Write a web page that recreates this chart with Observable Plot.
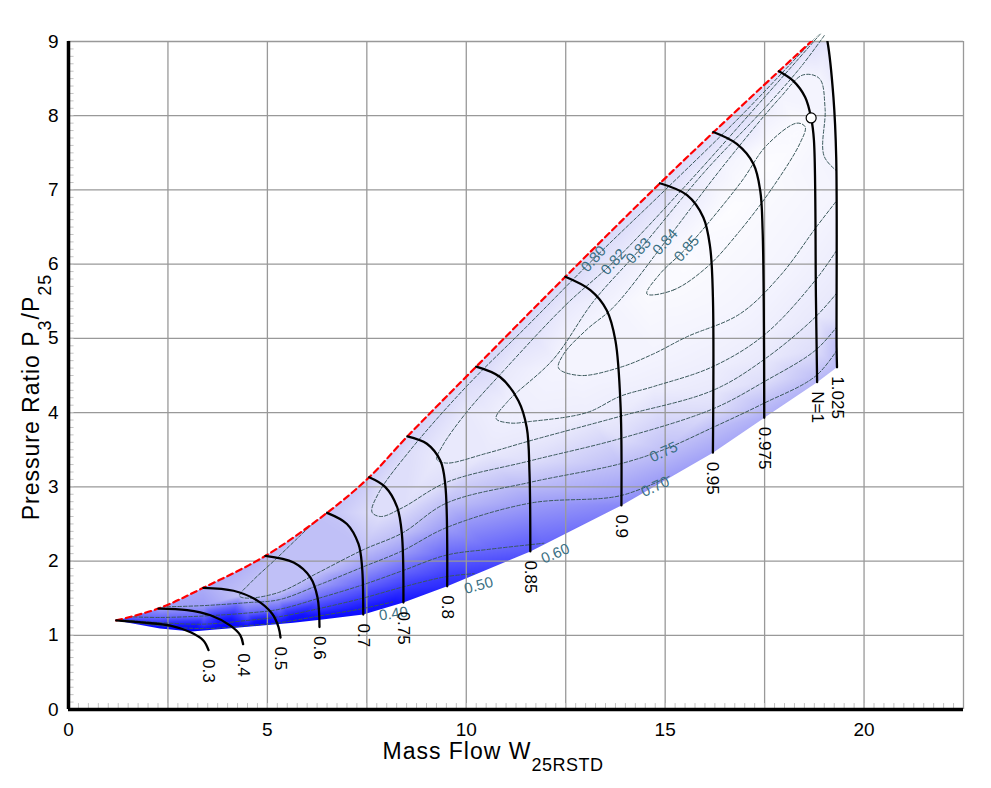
<!DOCTYPE html>
<html><head><meta charset="utf-8">
<script src="https://cdn.jsdelivr.net/npm/d3@7"></script>
<script src="https://cdn.jsdelivr.net/npm/@observablehq/plot@0.6"></script>
<style>body{margin:0;background:#fff;font-family:"Liberation Sans",Arial,sans-serif}</style>
</head><body><div id="chart"></div>
<script>
// ---- axes / ticks ----
const xTicks = [0, 5, 10, 15, 20];
const yTicks = [0, 1, 2, 3, 4, 5, 6, 7, 8, 9];
const xGrid = [0, 2.5, 5, 7.5, 10, 12.5, 15, 17.5, 20, 22.5];
const minorX = d3.range(0, 22.5, 0.25);
const minorY = d3.range(0, 9, 0.1);

// ---- surge line ----
const surgeLine = [[1.2,1.2],[2.26,1.36],[3.39,1.64],[4.95,2.07],[6.5,2.65],[7.56,3.13],[8.52,3.68],[10.25,4.62],[12.49,5.83],[14.87,7.09],[16.2,7.77],[17.86,8.6],[18.67,9.0],[19.0,9.17]];
const surgeEff = [0.45,0.70,0.72,0.735,0.755,0.77,0.78,0.785,0.79,0.795,0.795,0.795,0.8,0.8];

// ---- lower (choke) edge of the map ----
const chokeEdge = [[1.2,1.2],[2.3,1.09],[3.1,1.05],[4.0,1.09],[4.8,1.13],[5.65,1.17],[6.33,1.21],[7.41,1.28],[8.42,1.44],[9.52,1.66],[11.61,2.13],[13.9,2.75],[16.2,3.46],[17.49,3.93],[18.82,4.41],[19.32,4.61]];
const chokeEff = [0.45,0.3,0.25,0.25,0.27,0.3,0.33,0.36,0.4,0.46,0.57,0.66,0.71,0.725,0.735,0.74];

// ---- speed lines ----
const speedNames = ["0.3","0.4","0.5","0.6","0.7","0.75","0.8","0.85","0.9","0.95","0.975","N=1","1.025"];
const speed030 = [[1.2,1.2],[1.9,1.17],[2.56,1.13],[3.07,1.04],[3.39,0.93],[3.52,0.8]];
const speed040 = [[2.26,1.36],[2.98,1.34],[3.57,1.27],[4.07,1.13],[4.32,1.0],[4.39,0.88]];
const speed050 = [[3.39,1.64],[4.15,1.6],[4.74,1.47],[5.12,1.29],[5.28,1.11],[5.33,0.97]];
const speed060 = [[4.95,2.07],[5.66,1.98],[6.08,1.78],[6.26,1.51],[6.31,1.11]];
const speed070 = [[6.5,2.65],[7.0,2.5],[7.29,2.23],[7.38,1.92],[7.41,1.28]];
const speed075 = [[7.56,3.13],[7.96,3.0],[8.26,2.73],[8.38,2.37],[8.42,1.44]];
const speed080 = [[8.52,3.68],[9.01,3.58],[9.35,3.35],[9.47,3.04],[9.52,1.66]];
const speed085 = [[10.25,4.62],[10.85,4.48],[11.31,4.16],[11.52,3.8],[11.59,3.18],[11.61,2.13]];
const speed090 = [[12.49,5.83],[13.12,5.65],[13.53,5.38],[13.75,4.97],[13.88,4.07],[13.9,2.75]];
const speed095 = [[14.87,7.09],[15.55,6.93],[15.96,6.63],[16.13,6.23],[16.2,5.56],[16.2,3.46]];
const speed0975 = [[16.21,7.78],[16.8,7.62],[17.22,7.35],[17.39,6.99],[17.45,6.45],[17.49,3.93]];
const speed100 = [[17.86,8.6],[18.22,8.47],[18.52,8.25],[18.67,7.97],[18.74,7.67],[18.79,5.56],[18.82,4.41]];
const speed1025 = [[19.0,9.17],[19.08,9.0],[19.23,8.25],[19.3,7.44],[19.31,4.88],[19.32,4.61]];
const speedCurves = [speed030,speed040,speed050,speed060,speed070,speed075,speed080,speed085,speed090,speed095,speed0975,speed100,speed1025];
const rightEff = [0.8,0.81,0.835,0.845,0.75,0.74];

// ---- design point ----
const designPoint = [[18.67,7.97]];

// ---- efficiency contours ----
const contourLevels = [0.40,0.50,0.60,0.70,0.75,0.80,0.82,0.83,0.84];
const c040 = [[1.25,1.2],[2.3,1.13],[3.4,1.09],[4.5,1.13],[5.3,1.17],[6.3,1.26],[7.4,1.36],[8.15,1.45]];
const c050 = [[1.3,1.21],[2.3,1.17],[3.4,1.15],[4.5,1.2],[5.3,1.25],[6.3,1.36],[7.4,1.5],[8.4,1.65],[9.5,1.79],[10.2,1.83]];
const c060 = [[1.5,1.25],[2.3,1.24],[3.4,1.26],[4.5,1.3],[5.3,1.35],[6.3,1.5],[7.4,1.68],[8.4,1.87],[9.5,2.08],[10.6,2.16],[11.95,2.24]];
const c070 = [[2.2,1.38],[3.4,1.4],[4.5,1.44],[5.3,1.48],[6.3,1.68],[7.4,1.92],[8.4,2.14],[9.5,2.45],[11.6,2.78],[13.87,2.88],[15.1,3.14]];
const c075 = [[6.25,2.56],[5.8,2.33],[5.2,2.02],[4.6,1.72],[4.3,1.53],[4.5,1.5],[5.3,1.58],[6.3,1.85],[7.4,2.15],[8.4,2.38],[9.5,2.78],[11.6,3.06],[13.87,3.31],[14.96,3.5],[16.2,3.8],[17.46,4.12],[18.8,4.5],[19.45,4.95]];
const c080 = [[18.85,9.1],[17.0,8.05],[15.0,7.0],[13.2,6.07],[11.5,5.15],[10.0,4.35],[8.6,3.5],[7.8,2.92],[7.63,2.66],[7.85,2.6],[8.4,2.72],[9.5,3.06],[11.6,3.35],[13.87,3.65],[16.2,4.05],[17.5,4.42],[18.8,4.85],[19.45,5.25]];
const c082 = [[18.9,9.1],[17.5,8.25],[15.5,7.05],[13.7,6.03],[12.5,5.45],[11.0,4.6],[10.0,4.0],[9.4,3.55],[9.26,3.37],[9.5,3.32],[10.5,3.45],[11.6,3.62],[13.87,3.95],[16.2,4.3],[17.5,4.72],[18.8,5.3],[19.45,5.7]];
const c083 = [[19.0,9.08],[18.4,8.65],[17.5,8.1],[16.0,7.25],[14.33,6.18],[13.2,5.5],[12.19,4.72],[11.04,4.15],[10.75,3.92],[11.1,3.86],[11.6,3.88],[13.03,4.0],[13.87,4.22],[14.7,4.35],[16.2,4.62],[17.5,5.05],[18.8,5.8],[19.45,6.3]];
const c084 = [[19.45,7.2],[19.0,7.45],[19.02,8.1],[18.88,8.5],[18.47,8.55],[17.9,8.25],[16.5,7.35],[15.0,6.3],[13.7,5.42],[13.03,5.12],[12.45,4.79],[12.32,4.6],[12.86,4.5],[13.87,4.61],[14.7,4.79],[15.54,5.02],[16.88,5.33],[17.9,5.85],[18.8,6.5],[19.45,6.95]];
const contourCurves = [c040,c050,c060,c070,c075,c080,c082,c083,c084];
const c085 = [[14.54,5.6],[15.2,5.65],[16.05,5.96],[16.88,6.45],[17.71,7.04],[18.39,7.63],[18.52,7.85],[18.31,7.9],[17.55,7.6],[16.9,7.1],[15.54,6.22],[14.87,5.87]];
const peakEff = [[15.6,6.0,0.853],[16.6,6.7,0.856],[17.6,7.3,0.855]];

// ---- contour labels ----
const labelText = ["0.80","0.82","0.83","0.84","0.85","0.75","0.70","0.60","0.50","0.40"];
const labelX = [13.2,13.7,14.33,15.0,15.54,14.96,14.75,12.24,10.31,8.17];
const labelY = [6.07,6.03,6.18,6.3,6.21,3.47,3.0,2.1,1.67,1.29];
const labelAngle = [-48,-48,-48,-48,-48,-25,-25,-23,-15,-8];

// ---- colour ramp for efficiency shading ----
const effDomain = [0.25,0.4,0.5,0.6,0.7,0.75,0.8,0.84,0.86];
const effRange = ["#0000ff","#1414ff","#3a3afe","#6868fb","#9e9ef7","#c0c0f7","#dedefa","#f4f4fe","#ffffff"];

// ---- build tables ----
const speedRows = speedCurves.flatMap((pts,i)=>pts.map(([x,y])=>({n:speedNames[i],x,y})));
const speedEnds = speedCurves.map((pts,i)=>({n:speedNames[i],x:pts[pts.length-1][0],y:pts[pts.length-1][1]}));
const contourRows = contourCurves.flatMap((pts,i)=>pts.map(([x,y])=>({level:contourLevels[i],x,y})));
const surgeRows = surgeLine.map(([x,y])=>({x,y}));
const labelRows = labelText.map((t,i)=>({t,x:labelX[i],y:labelY[i],a:labelAngle[i]}));
const samples = [
  ...contourRows.map(d=>({x:d.x,y:d.y,e:d.level})),
  ...c085.map(([x,y])=>({x,y,e:0.85})),
  ...peakEff.map(([x,y,e])=>({x,y,e})),
  ...surgeLine.map(([x,y],i)=>({x,y,e:surgeEff[i]})),
  ...chokeEdge.map(([x,y],i)=>({x,y,e:chokeEff[i]})),
  ...speed1025.map(([x,y],i)=>({x,y,e:rightEff[i]}))
];

const font = "Liberation Sans, Arial, sans-serif";
const plot = Plot.plot({
  width: 991, height: 788,
  marginLeft: 68, marginRight: 28, marginTop: 41, marginBottom: 79,
  x: {domain: [0, 22.5]},
  y: {domain: [0, 9]},
  color: {type: "linear", domain: effDomain, range: effRange},
  style: {fontFamily: font, background: "white", color: "black"},
  marks: [
    Plot.raster(samples, {x: "x", y: "y", fill: "e", interpolate: "barycentric"}),
    Plot.ruleX(xGrid, {stroke: "#999", strokeWidth: 1.3}),
    Plot.ruleY(yTicks, {stroke: "#999", strokeWidth: 1.3}),
    Plot.ruleX(minorX, {x: d => d, y1: () => 0, y2: () => 0.08, stroke: "#c4c4c4"}),
    Plot.ruleY(minorY, {y: d => d, x1: () => 0, x2: () => 0.14, stroke: "#c4c4c4"}),
    Plot.line(contourRows, {x: "x", y: "y", z: "level", curve: "catmull-rom", stroke: "#3a585b", strokeWidth: 1, strokeDasharray: "3.5,2"}),
    Plot.line(c085, {x: d => d[0], y: d => d[1], curve: "catmull-rom-closed", stroke: "#3a585b", strokeWidth: 1, strokeDasharray: "3.5,2"}),
    Plot.text(labelRows, {x: "x", y: "y", text: "t", rotate: "a", fill: "#3a6f83", fontSize: 15}),
    Plot.line(surgeRows, {x: "x", y: "y", curve: "catmull-rom", stroke: "#ff0000", strokeWidth: 2.2, strokeDasharray: "6,4", clip: true}),
    Plot.line(speedRows, {x: "x", y: "y", z: "n", curve: "catmull-rom", stroke: "black", strokeWidth: 2.3, clip: true}),
    Plot.dot(designPoint, {x: d => d[0], y: d => d[1], r: 5, fill: "white", stroke: "black", strokeWidth: 1.2}),
    Plot.text(speedEnds, {x: "x", y: "y", text: "n", rotate: 90, textAnchor: "start", dy: 9, fontSize: 17, fill: "black"}),
    Plot.ruleX([0], {stroke: "black", strokeWidth: 3.5}),
    Plot.ruleY([0], {stroke: "black", strokeWidth: 3.5}),
    Plot.axisX(xTicks, {tickSize: 0, tickPadding: 13, fontSize: 19, tickFormat: d => String(d), label: null}),
    Plot.axisY(yTicks, {tickSize: 0, tickPadding: 10, fontSize: 19, tickFormat: d => String(d), label: null})
  ]
});

// clip shading and contours to the map region
const xs = plot.scale("x"), ys = plot.scale("y");
const P = ([x,y]) => [xs.apply(x), ys.apply(y)];
const lin = d3.line();
const cr = d3.line().curve(d3.curveCatmullRom);
const seg1 = lin(chokeEdge.map(P));
const seg2 = cr(speed1025.slice().reverse().map(P)).replace(/^M/, "L");
const seg3 = cr(surgeLine.slice().reverse().map(P)).replace(/^M/, "L");
const svg = d3.select(plot);
svg.append("defs").append("clipPath").attr("id", "mapRegion")
  .append("path").attr("d", seg1 + seg2 + seg3 + "Z");
svg.selectAll('g[aria-label="raster"]').attr("clip-path", "url(#mapRegion)");
const lineGroups = svg.selectAll('g[aria-label="line"]').nodes();
[lineGroups[0], lineGroups[1]].forEach(g => g && g.setAttribute("clip-path", "url(#mapRegion)"));

// axis titles with subscripts
const xt = svg.append("text").attr("x", 493).attr("y", 759).attr("text-anchor", "middle")
  .attr("font-size", 23).attr("letter-spacing", 1).attr("font-family", font).attr("fill", "black");
xt.append("tspan").text("Mass Flow W");
xt.append("tspan").attr("font-size", 18).attr("letter-spacing", 0.5).attr("dy", 12).text("25RSTD");

const yt = svg.append("text").attr("transform", "translate(39,397) rotate(-90)").attr("text-anchor", "middle")
  .attr("font-size", 23).attr("letter-spacing", 1).attr("font-family", font).attr("fill", "black");
yt.append("tspan").text("Pressure Ratio P");
yt.append("tspan").attr("font-size", 18).attr("dy", 12).text("3");
yt.append("tspan").attr("dy", -12).text("/P");
yt.append("tspan").attr("font-size", 18).attr("dy", 12).text("25");

document.getElementById("chart").appendChild(plot);
</script>
</body></html>
